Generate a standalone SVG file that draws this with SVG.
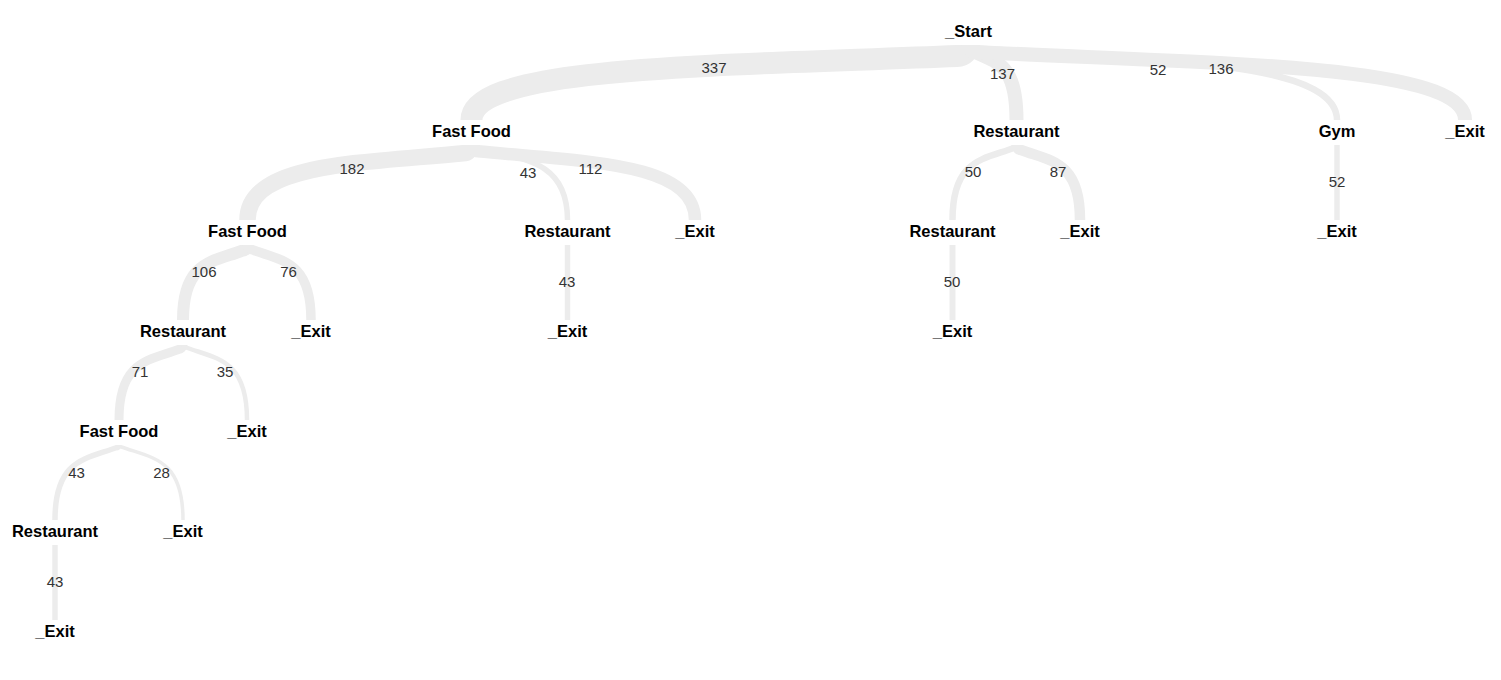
<svg xmlns="http://www.w3.org/2000/svg" width="1501" height="680" viewBox="0 0 1501 680">
<style>
.lk{fill:none;stroke:#ececec;stroke-linecap:butt}
.nl{font-family:"Liberation Sans",Arial,Helvetica,sans-serif;font-size:16.5px;font-weight:bold;fill:#000;text-anchor:middle}
.el{font-family:"Liberation Sans",Arial,Helvetica,sans-serif;font-size:15px;fill:#333;text-anchor:middle}
</style>
<rect width="1501" height="680" fill="#fff"/>
<g id="connectors">
<path class="lk" stroke-width="22" d="M968.5,45 A11,11 0 0 1 957.5,56 C714.5,66 471.5,66 471.5,120"/>
<path class="lk" stroke-width="14" d="M968.5,45 A7,7 0 0 0 975.5,52 C996,62.6 1016.5,62.6 1016.5,120"/>
<path class="lk" stroke-width="6.5" d="M968.5,45 A3.25,3.25 0 0 0 971.75,48.25 C1154.4,60.4 1337,60.4 1337,120"/>
<path class="lk" stroke-width="14" d="M968.5,45 A7,7 0 0 0 975.5,52 C1220.25,64 1465,64 1465,120"/>
<path class="lk" stroke-width="16.5" d="M471.5,145 A8.25,8.25 0 0 1 463.25,153.25 C355.4,163.65 247.5,163.65 247.5,220"/>
<path class="lk" stroke-width="5.5" d="M471.5,145 A2.75,2.75 0 0 0 474.25,147.75 C520.9,159.05 567.5,159.05 567.5,220"/>
<path class="lk" stroke-width="12.5" d="M471.5,145 A6.25,6.25 0 0 0 477.75,151.25 C586.4,161.95 695,161.95 695,220"/>
<path class="lk" stroke-width="6.5" d="M1016.5,145 A3.25,3.25 0 0 1 1013.25,148.25 C982.9,159.45 952.5,159.45 952.5,220"/>
<path class="lk" stroke-width="10.5" d="M1016.5,145 A5.25,5.25 0 0 0 1021.75,150.25 C1050.9,161.15 1080,161.15 1080,220"/>
<path class="lk" stroke-width="5.5" d="M1337,145 V220"/>
<path class="lk" stroke-width="12" d="M247.5,245 A6,6 0 0 1 241.5,251 C212.25,261.8 183,261.8 183,320"/>
<path class="lk" stroke-width="9.5" d="M247.5,245 A4.75,4.75 0 0 0 252.25,249.75 C281.6,260.75 311,260.75 311,320"/>
<path class="lk" stroke-width="5.5" d="M567.5,245 V320"/>
<path class="lk" stroke-width="6" d="M952.5,245 V320"/>
<path class="lk" stroke-width="9" d="M183,345 A4.5,4.5 0 0 1 178.5,349.5 C148.75,360.5 119,360.5 119,420"/>
<path class="lk" stroke-width="4.5" d="M183,345 A2.25,2.25 0 0 0 185.25,347.25 C216.1,358.6 247,358.6 247,420"/>
<path class="lk" stroke-width="5.5" d="M119,445 A2.75,2.75 0 0 1 116.25,447.75 C85.6,459.05 55,459.05 55,520"/>
<path class="lk" stroke-width="3.5" d="M119,445 A1.75,1.75 0 0 0 120.75,446.75 C151.9,458.1 183,458.1 183,520"/>
<path class="lk" stroke-width="5.5" d="M55,545 V620"/>
<g id="connector-labels">
<text class="el" x="714" y="73">337</text>
<text class="el" x="1002.5" y="78.5">137</text>
<text class="el" x="1158" y="74.5">52</text>
<text class="el" x="1221" y="74">136</text>
<text class="el" x="352" y="174">182</text>
<text class="el" x="528" y="178">43</text>
<text class="el" x="590.5" y="174">112</text>
<text class="el" x="973" y="176.5">50</text>
<text class="el" x="1058" y="176.5">87</text>
<text class="el" x="1337" y="187">52</text>
<text class="el" x="204" y="276.5">106</text>
<text class="el" x="288.5" y="276.5">76</text>
<text class="el" x="567" y="286.5">43</text>
<text class="el" x="952" y="286.5">50</text>
<text class="el" x="140" y="376.5">71</text>
<text class="el" x="225" y="376.5">35</text>
<text class="el" x="76.5" y="478">43</text>
<text class="el" x="161.5" y="478">28</text>
<text class="el" x="55" y="586.5">43</text>
</g>
</g>
<g id="n-start"><text class="nl" x="968.5" y="37">_Start</text></g>
<g id="n-ff1"><text class="nl" x="471.5" y="137">Fast Food</text></g>
<g id="n-rest1"><text class="nl" x="1016.5" y="137">Restaurant</text></g>
<g id="n-gym1"><text class="nl" x="1337" y="137">Gym</text></g>
<g id="n-exit1"><text class="nl" x="1465" y="137">_Exit</text></g>
<g id="n-ff2"><text class="nl" x="247.5" y="237">Fast Food</text></g>
<g id="n-rest2a"><text class="nl" x="567.5" y="237">Restaurant</text></g>
<g id="n-exit2a"><text class="nl" x="695" y="237">_Exit</text></g>
<g id="n-rest2b"><text class="nl" x="952.5" y="237">Restaurant</text></g>
<g id="n-exit2b"><text class="nl" x="1080" y="237">_Exit</text></g>
<g id="n-exit2c"><text class="nl" x="1337" y="237">_Exit</text></g>
<g id="n-rest3"><text class="nl" x="183" y="337">Restaurant</text></g>
<g id="n-exit3a"><text class="nl" x="311" y="337">_Exit</text></g>
<g id="n-exit3b"><text class="nl" x="567.5" y="337">_Exit</text></g>
<g id="n-exit3c"><text class="nl" x="952.5" y="337">_Exit</text></g>
<g id="n-ff4"><text class="nl" x="119" y="437">Fast Food</text></g>
<g id="n-exit4"><text class="nl" x="247" y="437">_Exit</text></g>
<g id="n-rest5"><text class="nl" x="55" y="537">Restaurant</text></g>
<g id="n-exit5"><text class="nl" x="183" y="537">_Exit</text></g>
<g id="n-exit6"><text class="nl" x="55" y="637">_Exit</text></g>
</svg>
